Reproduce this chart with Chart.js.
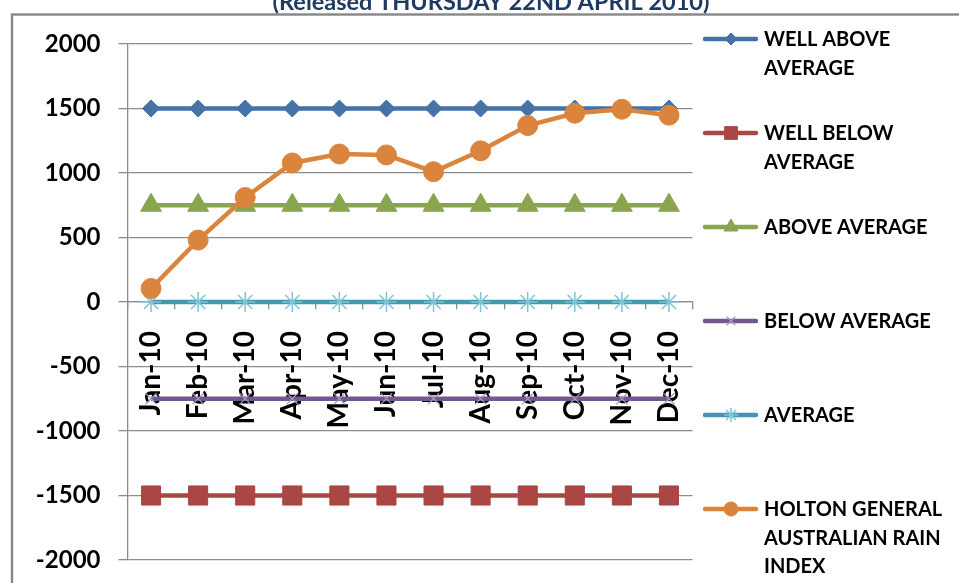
<!DOCTYPE html>
<html>
<head>
<meta charset="utf-8">
<script src="https://cdn.jsdelivr.net/npm/chart.js@4/dist/chart.umd.min.js"></script>
<style>
html,body{margin:0;padding:0;background:#fff;overflow:hidden;}
#wrap{position:absolute;left:0;top:0;width:959px;height:583px;}
</style>
</head>
<body>
<div id="wrap"><canvas id="c" width="959" height="583"></canvas></div>
<script>
const titleText = '(Released THURSDAY 22ND APRIL 2010)';
const categories = ['Jan-10','Feb-10','Mar-10','Apr-10','May-10','Jun-10','Jul-10','Aug-10','Sep-10','Oct-10','Nov-10','Dec-10'];
const wellAbove = [1500,1500,1500,1500,1500,1500,1500,1500,1500,1500,1500,1500];
const wellBelow = [-1500,-1500,-1500,-1500,-1500,-1500,-1500,-1500,-1500,-1500,-1500,-1500];
const aboveAvg = [750,750,750,750,750,750,750,750,750,750,750,750];
const belowAvg = [-750,-750,-750,-750,-750,-750,-750,-750,-750,-750,-750,-750];
const average = [0,0,0,0,0,0,0,0,0,0,0,0];
const holton = [105,480,810,1078,1147,1140,1010,1172,1368,1463,1494,1448];
const yTicks = [2000,1500,1000,500,0,-500,-1000,-1500,-2000];
const legendLabels = [
  ['WELL ABOVE','AVERAGE'],
  ['WELL BELOW','AVERAGE'],
  ['ABOVE AVERAGE'],
  ['BELOW AVERAGE'],
  ['AVERAGE'],
  ['HOLTON GENERAL','AUSTRALIAN RAIN','INDEX']
];

const seriesDefs = [
  {label:'WELL ABOVE AVERAGE', data:wellAbove, color:'#4572A7', pColor:'#4572A7', style:'rectRot', r:8.5, lr:6, pbw:1},
  {label:'WELL BELOW AVERAGE', data:wellBelow, color:'#AA4643', pColor:'#AA4643', style:'rect', r:13.5, lr:9, pbw:1},
  {label:'ABOVE AVERAGE', data:aboveAvg, color:'#89A54E', pColor:'#89A54E', style:'triangle', r:12, lr:8, pbw:1},
  {label:'BELOW AVERAGE', data:belowAvg, color:'#71588F', pColor:'#A596C0', style:'crossRot', r:8, lr:6, pbw:1.3},
  {label:'AVERAGE', data:average, color:'#4198AF', pColor:'#7EC4D8', style:'star', r:10, lr:7, pbw:1.5},
  {label:'HOLTON GENERAL AUSTRALIAN RAIN INDEX', data:holton, color:'#DB843D', pColor:'#DB843D', style:'circle', r:10, lr:7, pbw:1}
];

const datasets = seriesDefs.map((s,i)=>({
  label:s.label,
  data:s.data,
  borderColor:s.color,
  backgroundColor:s.pColor,
  borderWidth:4.5,
  pointStyle:s.style,
  pointRadius:s.r,
  pointHoverRadius:s.r,
  pointBackgroundColor:s.pColor,
  pointBorderColor:s.pColor,
  pointBorderWidth:s.pbw,
  tension:0,
  order:6-i
}));

const frameAndText = {
  id:'frameAndText',
  afterDraw(chart){
    const ctx = chart.ctx;
    ctx.save();
    // outer border
    ctx.strokeStyle = '#878787';
    ctx.lineWidth = 2.4;
    ctx.strokeRect(12, 14.5, 1000, 1000);
    // title (cut off at top)
    ctx.fillStyle = '#1F3A60';
    ctx.font = 'bold 23.5px Lato';
    ctx.textAlign = 'center';
    ctx.textBaseline = 'alphabetic';
    ctx.fillText(titleText, 491, 10);
    // legend
    const startY = 39, step = 94, lh = 28.5;
    ctx.textAlign = 'left';
    ctx.textBaseline = 'middle';
    seriesDefs.forEach((s,i)=>{
      const y = startY + i*step;
      ctx.strokeStyle = s.color;
      ctx.lineWidth = 4.5;
      ctx.lineCap = 'round';
      ctx.beginPath(); ctx.moveTo(705, y); ctx.lineTo(756, y); ctx.stroke();
      ctx.lineCap = 'butt';
      ctx.fillStyle = s.pColor; ctx.strokeStyle = s.pColor;
      ctx.lineWidth = s.pbw;
      Chart.helpers.drawPoint(ctx, {pointStyle:s.style, radius:s.lr, rotation:0, borderWidth:s.pbw}, 731, y);
      ctx.fillStyle = '#000';
      ctx.font = 'bold 20px Lato';
      legendLabels[i].forEach((t,j)=>{ ctx.fillText(t, 764, y + 1 + j*lh); });
    });
    ctx.restore();
  }
};

new Chart(document.getElementById('c'), {
  type:'line',
  data:{labels:categories, datasets},
  options:{
    responsive:false,
    animation:false,
    events:[],
    layout:{padding:{left:0, top:44, right:959-692.5, bottom:23}},
    plugins:{legend:{display:false}, title:{display:false}, tooltip:{enabled:false}},
    scales:{
      x:{
        type:'category',
        position:{y:0},
        offset:true,
        afterFit(scale){ scale.paddingLeft = 0; scale.paddingRight = 0; scale.paddingTop = 0; scale.paddingBottom = 0; },
        grid:{offset:true, drawOnChartArea:false, drawTicks:true, tickLength:7, color:'#8C8C8C', lineWidth:1.3},
        border:{display:true, color:'#8C8C8C', width:1.3},
        ticks:{minRotation:90, maxRotation:90, autoSkip:false, padding:22, color:'#000', font:{family:'Lato', size:28, weight:'bold'}}
      },
      y:{
        min:-2000, max:2000,
        afterBuildTicks(scale){ scale.ticks = yTicks.map(v=>({value:v})); },
        afterFit(scale){ scale.width = 127.5; scale.paddingTop = 0; scale.paddingBottom = 0; },
        grid:{color:'#8C8C8C', lineWidth:1.3, tickLength:9},
        border:{display:true, color:'#8C8C8C', width:1.3},
        ticks:{padding:18, color:'#000', font:{family:'Lato', size:24, weight:'bold'}, callback:(v)=>String(v)}
      }
    }
  },
  plugins:[frameAndText]
});
</script>
</body>
</html>
